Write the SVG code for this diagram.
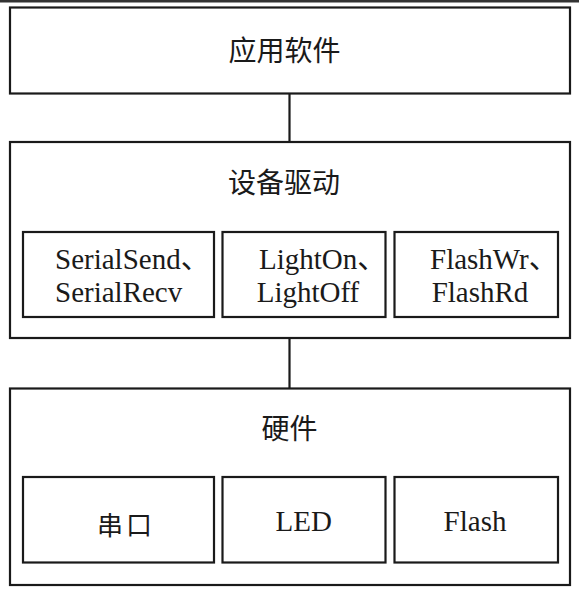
<svg xmlns="http://www.w3.org/2000/svg" width="579" height="592" viewBox="0 0 579 592">
<style>
.box{fill:none;stroke:#1a1a1a;stroke-width:2.2}
.con{stroke:#1a1a1a;stroke-width:2.2;fill:none}
.cjk{font-family:"Noto Sans CJK SC",sans-serif;font-size:28px;fill:#1a1a1a;dominant-baseline:central;text-anchor:middle}
.lat{font-family:"Liberation Serif","Noto Sans CJK SC",serif;font-size:29px;fill:#1a1a1a}
.mid{text-anchor:middle}
</style>
<rect x="0" y="0" width="579" height="592" fill="#ffffff"/>
<rect x="0" y="0" width="579" height="2.5" fill="#333333"/>
<g id="connectors">
<line class="con" x1="289.5" y1="93.5" x2="289.5" y2="142"/>
<line class="con" x1="289.5" y1="338" x2="289.5" y2="388.5"/>
</g>
<g id="app">
<rect class="box" x="10" y="7.5" width="560" height="86"/>
<text class="cjk" x="284.5" y="49">应用软件</text>
</g>
<g id="driver">
<rect class="box" x="10" y="142" width="560" height="196"/>
<text class="cjk" x="284" y="181">设备驱动</text>
</g>
<g id="drv-serial">
<rect class="box" x="23" y="232" width="191" height="85"/>
<text class="lat" x="55" y="269">SerialSend、</text>
<text class="lat" x="55" y="302">SerialRecv</text>
</g>
<g id="drv-light">
<rect class="box" x="222.5" y="232" width="163" height="85"/>
<text class="lat" x="259" y="269">LightOn、</text>
<text class="lat" x="256.7" y="302">LightOff</text>
</g>
<g id="drv-flash">
<rect class="box" x="394.5" y="232" width="163.5" height="85"/>
<text class="lat" x="430" y="269">FlashWr、</text>
<text class="lat" x="431.7" y="302">FlashRd</text>
</g>
<g id="hardware">
<rect class="box" x="10" y="388.5" width="560" height="196.5"/>
<text class="cjk" x="289.5" y="427">硬件</text>
</g>
<g id="hw-serial">
<rect class="box" x="23" y="477" width="191" height="85.5"/>
<text class="cjk" x="126" y="523" style="font-size:26px;letter-spacing:3px">串口</text>
</g>
<g id="hw-led">
<rect class="box" x="222.5" y="477" width="163" height="85.5"/>
<text class="lat mid" x="303.7" y="531">LED</text>
</g>
<g id="hw-flash">
<rect class="box" x="394.5" y="477" width="163.5" height="85.5"/>
<text class="lat mid" x="475" y="531">Flash</text>
</g>
</svg>
